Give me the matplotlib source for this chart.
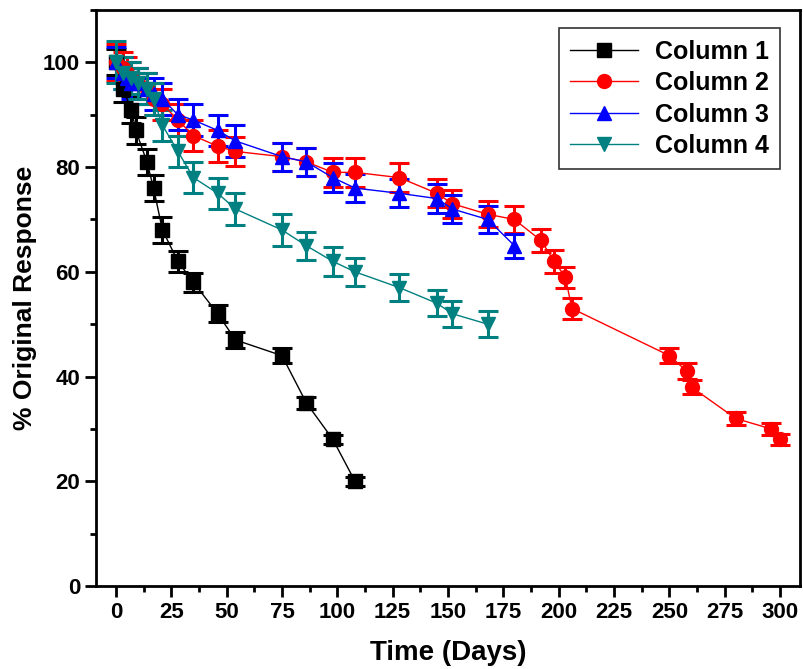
import matplotlib.pyplot as plt
from matplotlib.ticker import MultipleLocator
from matplotlib.lines import Line2D

# data
days1 = [0, 3, 7, 9, 14, 17, 21, 28, 35, 46, 54, 75, 86, 98, 108]
col1 = [100, 95, 91, 87, 81, 76, 68, 62, 58, 52, 47, 44, 35, 28, 20]
err1 = [2.5, 2.5, 2.5, 2.5, 2.5, 2.5, 2.4, 2.0, 1.8, 1.6, 1.5, 1.4, 1.1, 0.9, 0.8]

days2 = [0, 3, 5, 7, 10, 14, 17, 21, 28, 35, 46, 54, 75, 86, 98, 108, 128, 145, 152, 168,
         180, 192, 198, 203, 206, 250, 258, 260, 280, 296, 300]
col2 = [100, 99, 98, 97, 96, 95, 93, 92, 89, 86, 84, 83, 82, 81, 79, 79, 78, 75, 73, 71,
        70, 66, 62, 59, 53, 44, 41, 38, 32, 30, 28]
err2 = [3.5, 3, 3, 3, 3, 3, 3, 3, 3, 3, 3, 2.7, 2.7, 2.7, 2.7, 2.7, 2.7, 2.7, 2.7, 2.5,
        2.5, 2.2, 2.2, 2.0, 2.0, 1.5, 1.5, 1.3, 1.2, 1.2, 1.0]

days3 = [0, 3, 5, 7, 10, 14, 17, 21, 28, 35, 46, 54, 75, 86, 98, 108, 128, 145, 152, 168, 180]
col3 = [100, 98, 97, 96, 96, 95, 94, 93, 90, 89, 87, 85, 82, 81, 78, 76, 75, 74, 72, 70, 65]
err3 = [3, 3, 3, 3, 3, 3, 3, 3, 3, 3, 3, 3, 2.7, 2.7, 2.7, 2.7, 2.7, 2.7, 2.7, 2.5, 2.3]

days4 = [0, 3, 7, 10, 14, 17, 21, 28, 35, 46, 54, 75, 86, 98, 108, 128, 145, 152, 168]
col4 = [100, 98, 97, 96, 95, 93, 88, 83, 78, 75, 72, 68, 65, 62, 60, 57, 54, 52, 50]
err4 = [4, 3, 3, 3, 3, 3, 3, 3, 3, 3, 3, 3, 2.7, 2.7, 2.7, 2.5, 2.5, 2.5, 2.5]

xticks = [0, 25, 50, 75, 100, 125, 150, 175, 200, 225, 250, 275, 300]
yticks = [0, 20, 40, 60, 80, 100]

plt.rcParams['font.family'] = ['Liberation Sans', 'DejaVu Sans']

fig = plt.figure(figsize=(8.04, 6.69), dpi=100)
ax = fig.add_axes([0.1194, 0.124, 0.8756, 0.861])

series = [
    (days1, col1, err1, 'black', 's', 'Column 1'),
    (days2, col2, err2, '#ff0000', 'o', 'Column 2'),
    (days3, col3, err3, '#0000ff', '^', 'Column 3'),
    (days4, col4, err4, '#008080', 'v', 'Column 4'),
]
handles = []
for d, v, e, c, m, lab in series:
    ax.errorbar(d, v, yerr=e, color=c, marker=m, markersize=10, linewidth=1,
                elinewidth=2.2, capsize=7, capthick=2.2)
    handles.append(Line2D([], [], color=c, marker=m, markersize=10, linewidth=1, label=lab))

ax.set_xlim(-9, 309)
ax.set_ylim(0, 110)
ax.set_xticks(xticks)
ax.set_yticks(yticks)
ax.xaxis.set_minor_locator(MultipleLocator(12.5))
ax.yaxis.set_minor_locator(MultipleLocator(10))
ax.tick_params(which='major', direction='out', length=8, width=2, labelsize=16)
ax.tick_params(which='minor', direction='out', length=4, width=2)
for lab in ax.get_xticklabels() + ax.get_yticklabels():
    lab.set_fontweight('bold')
for sp in ax.spines.values():
    sp.set_linewidth(2)

ax.set_xlabel('Time (Days)', fontsize=20, fontweight='bold', labelpad=12)
ax.set_ylabel('% Original Response', fontsize=19, fontweight='bold', labelpad=4)

leg = ax.legend(handles=handles, loc='upper right', bbox_to_anchor=(0.99, 0.99),
                prop={'weight': 'bold', 'size': 18}, frameon=True, fancybox=False,
                edgecolor='black', handlelength=2.7, borderpad=0.45, labelspacing=0.3,
                handletextpad=0.7)
leg.get_frame().set_linewidth(1.2)

fig.savefig('out.png', dpi=100)
